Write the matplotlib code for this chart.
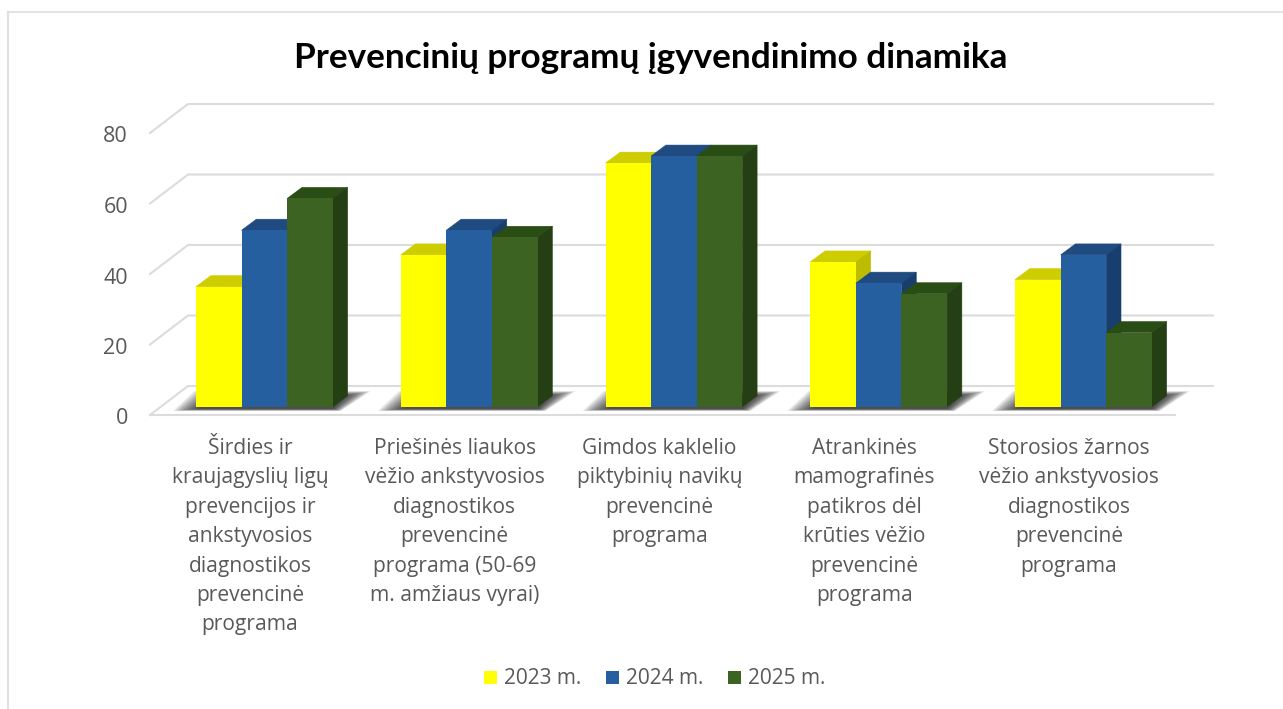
import matplotlib
matplotlib.use('Agg')
import matplotlib.pyplot as plt

W, H = 1283, 709

categories = [
    'Širdies ir\nkraujagyslių ligų\nprevencijos ir\nankstyvosios\ndiagnostikos\nprevencinė\nprograma',
    'Priešinės liaukos\nvėžio ankstyvosios\ndiagnostikos\nprevencinė\nprograma (50-69\nm. amžiaus vyrai)',
    'Gimdos kaklelio\npiktybinių navikų\nprevencinė\nprograma',
    'Atrankinės\nmamografinės\npatikros dėl\nkrūties vėžio\nprevencinė\nprograma',
    'Storosios žarnos\nvėžio ankstyvosios\ndiagnostikos\nprevencinė\nprograma',
]
series_names = ['2023 m.', '2024 m.', '2025 m.']
values_2023 = [34, 43, 69, 41, 36]
values_2024 = [50, 50, 71, 35, 43]
values_2025 = [59, 48, 71, 32, 21]
y_ticks = [0, 20, 40, 60, 80]

# front, top, side colours per series
colors = [
    ('#ffff00', '#cdcd00', '#bcbc00'),
    ('#265f9f', '#1f4b80', '#183e70'),
    ('#3c6322', '#2a4d16', '#233f13'),
]

# scale of the picture: px per category / per value unit
PX_CAT = 204.75
PX_VAL = 3.53
X0_PX = 264.4
Y0_PX = 406.7
BAR_W = 45.6 / PX_CAT
DX = 14.8 / PX_CAT
DY = 11 / PX_VAL
FLOOR_FRONT = (Y0_PX - 415) / PX_VAL
WALL_DX = 38 / PX_CAT
WALL_DY = 29 / PX_VAL
WALL_SCALE = 3.525 / PX_VAL
GRID = '#dcdcdc'
TEXT = '#595959'
FONT = 'Open Sans'


def to_x(px):
    return (px - X0_PX) / PX_CAT


def to_y(py):
    return (Y0_PX - py) / PX_VAL


fig = plt.figure(figsize=(W / 100, H / 100), dpi=100, facecolor='white')
ax = fig.add_axes([0, 0, 1, 1])
ax.set_xlim(to_x(0), to_x(W))
ax.set_ylim(to_y(H), to_y(0))
ax.axis('off')

# chart frame
ax.plot([to_x(8), to_x(8)], [to_y(709), to_y(12)], color='#e0e0e0', lw=1.5)
ax.plot([to_x(8), to_x(1283)], [to_y(12), to_y(12)], color='#e0e0e0', lw=1.3)

# walls and floor
left, right = to_x(150), to_x(1175)
for v in y_ticks:
    y = FLOOR_FRONT + v * WALL_SCALE
    ax.plot([left, left + WALL_DX, right + WALL_DX], [y, y + WALL_DY, y + WALL_DY],
            color=GRID, lw=1.5, solid_joinstyle='miter')
    ax.text(to_x(128), y - 4 / PX_VAL, str(v), ha='right', va='center', color=TEXT, fontsize=15.5, family=FONT)
ax.plot([left, right], [FLOOR_FRONT, FLOOR_FRONT], color=GRID, lw=1.5)

# shadows on the floor, layered to look blurred
LAYERS = 16
for i in range(5):
    x0 = i - 1.5 * BAR_W
    x1 = i + 1.5 * BAR_W
    for step in range(LAYERS):
        inset = step * 1.7 / PX_CAT
        y_low = -1.2 + step * 0.04
        y_high = 4.4 - step * 0.09
        ax.fill([x0 - 23 / PX_CAT + inset, x1 + 8 / PX_CAT - inset * 0.3,
                 x1 + 38 / PX_CAT - inset, x0 - 2 / PX_CAT + inset],
                [y_low, y_low, y_high, y_high],
                color='#1c1c1c', alpha=0.085, lw=0, zorder=2)

# bars
for j, vals in enumerate([values_2023, values_2024, values_2025]):
    front, top_c, side_c = colors[j]
    xs = [i + (j - 1) * BAR_W for i in range(len(vals))]
    for x, v in zip(xs, vals):
        xl, xr = x - BAR_W / 2, x + BAR_W / 2
        ax.fill([xl, xr, xr + DX, xl + DX], [v, v, v + DY, v + DY],
                facecolor=top_c, edgecolor=top_c, lw=0.4, zorder=3 + j)
        ax.fill([xr, xr + DX, xr + DX, xr], [0, DY, v + DY, v],
                facecolor=side_c, edgecolor=side_c, lw=0.4, zorder=3 + j)
    ax.bar(xs, vals, width=BAR_W, color=front, lw=0, zorder=3 + j)

# category labels
for i, label in enumerate(categories):
    ax.text(i + to_x(250), to_y(438), label, ha='center', va='top', color=TEXT,
            fontsize=15.1, family=FONT, linespacing=1.525)

ax.text(to_x(651), to_y(58), 'Prevencinių programų įgyvendinimo dinamika', ha='center', va='center',
        color='black', fontsize=25.3, fontweight='bold', family='Lato')

# legend
for name, c, px in zip(series_names, colors, [484, 606, 728]):
    ax.bar(to_x(px + 6.5), 13 / PX_VAL, width=13 / PX_CAT, bottom=to_y(684), color=c[0], lw=0)
    ax.text(to_x(px + 20), to_y(678), name, ha='left', va='center', color=TEXT, fontsize=15, family=FONT)

fig.savefig('out.png', dpi=100)
